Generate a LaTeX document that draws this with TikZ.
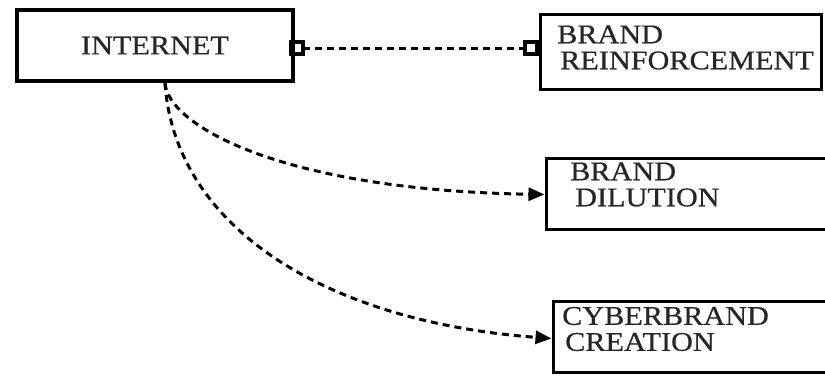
\documentclass[tikz,border=0pt]{standalone}
\usepackage{fontspec}
\setmainfont{Liberation Serif}[FakeStretch=1.12,FakeBold=0.6]
\usetikzlibrary{arrows.meta}
\begin{document}
\begin{tikzpicture}[x=1pt,y=-1pt,
  boxnode/.style={draw=black, line width=3pt, inner sep=0pt, anchor=north west},
  lbl/.style={font=\fontsize{27}{26}\selectfont, align=left, inner sep=0pt, anchor=west, text=black!85},
  conn/.style={line width=3pt, dash pattern=on 7pt off 5pt},
  sqtip/.style={{Square[open,length=16pt,width=16pt,line width=4pt]}-{Square[open,length=16pt,width=16pt,line width=4pt]}},
  tri/.style={-{Triangle[length=16pt,width=13pt]}}
]
\useasboundingbox (0,0) rectangle (825,376);
\clip (0,0) rectangle (825,376);
\fill[white] (0,0) rectangle (825,376);

% boxes
\node[boxnode, line width=4pt, minimum width=276pt, minimum height=71pt,
      font=\fontsize{27}{27}\selectfont, text=black!85] (inet) at (15,8) {INTERNET};
\node[boxnode, minimum width=281pt, minimum height=75pt] (br) at (538.5,12.5) {};
\node[boxnode, minimum width=290pt, minimum height=71pt] (bd) at (544.5,156.5) {};
\node[boxnode, minimum width=290pt, minimum height=71pt] (cc) at (551.5,299.5) {};

% labels
\node[lbl] (brt) at (557,47.5) {BRAND\\\hspace*{3pt}REINFORCEMENT};
\node[lbl] (bdt) at (570,184.5) {BRAND\\\hspace*{5pt}DILUTION};
\node[lbl] (cct) at (562,329) {CYBERBRAND\\\hspace*{3pt}CREATION};

% connectors
\coordinate (s) at (165,83);
\draw[conn, sqtip] ([yshift=-2.5pt,xshift=-6pt]inet.east) -- ([yshift=-2.5pt]inet.east -| br.west);
\draw[conn, tri] (s) .. controls (168,125) and (280,190) .. ([yshift=-1pt]bd.west);
\draw[conn, tri] (s) .. controls (175,230) and (330,322) .. ([yshift=-2pt]cc.west);
\end{tikzpicture}
\end{document}
